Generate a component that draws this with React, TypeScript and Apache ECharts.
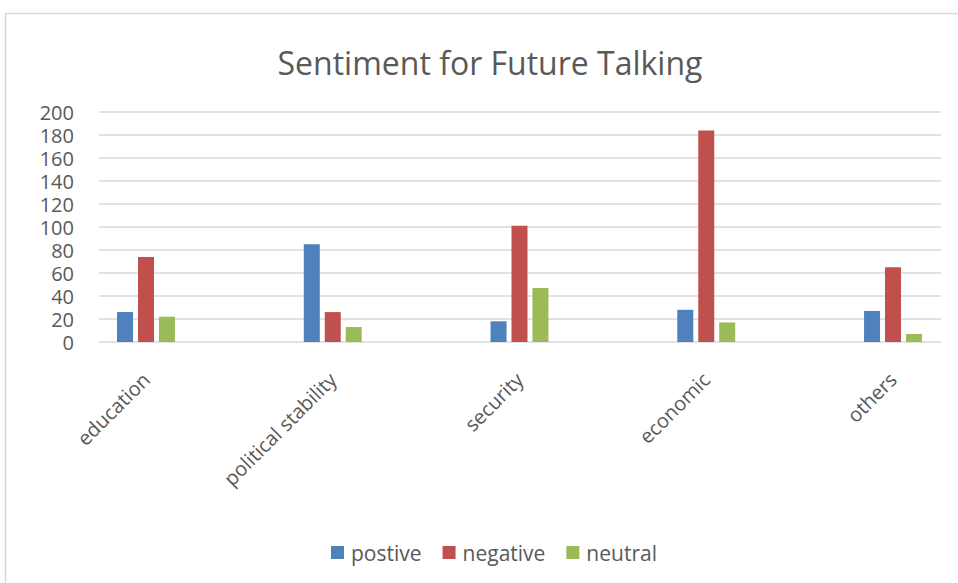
import React, { useEffect, useRef } from "react";
import * as echarts from "echarts";

const categories = ["education", "political stability", "security", "economic", "others"];
const seriesNames = ["postive", "negative", "neutral"];
const positive = [26, 85, 18, 28, 27];
const negative = [74, 26, 101, 184, 65];
const neutral = [22, 13, 47, 17, 7];
const yTicks = { min: 0, max: 200, interval: 20 };
const colors = ["#4F81BD", "#C0504D", "#9BBB59"];
const titleText = "Sentiment for Future Talking";

export default function App() {
  const ref = useRef<HTMLDivElement>(null);
  useEffect(() => {
    if (!ref.current) return;
    const chart = echarts.init(ref.current, null, { renderer: "svg" });
    const font = "'Open Sans', 'Noto Sans', sans-serif";
    const textColor = "#595959";
    const values = [positive, negative, neutral];
    chart.setOption({
      animation: false,
      backgroundColor: "#ffffff",
      textStyle: { fontFamily: font },
      graphic: [
        {
          type: "rect",
          shape: { x: 5.5, y: 13.5, width: 1100, height: 1100 },
          style: { fill: "none", stroke: "#d9d9d9", lineWidth: 1.5 },
          silent: true,
        },
        {
          type: "text",
          x: 490,
          y: 62,
          style: {
            text: titleText,
            fontFamily: font,
            fontSize: 32,
            fill: textColor,
            textAlign: "center",
            textVerticalAlign: "middle",
          },
        },
      ],
      legend: {
        data: seriesNames,
        left: 331,
        top: 542,
        padding: 0,
        itemWidth: 13,
        itemHeight: 13,
        itemGap: 21,
        icon: "rect",
        textStyle: { fontSize: 21, color: textColor, fontFamily: font, padding: [0, 0, 0, 2] },
      },
      grid: [
        { left: 99, top: 112, width: 842, height: 230 },
        { left: 146, top: 112, width: 747, height: 230 },
      ],
      xAxis: [
        { type: "value", gridIndex: 0, show: false, min: 0, max: 1 },
        {
          type: "category",
          gridIndex: 1,
          data: categories,
          boundaryGap: false,
          axisLine: { show: false },
          axisTick: { show: false },
          splitLine: { show: false },
          axisLabel: {
            rotate: 45,
            fontSize: 20,
            color: textColor,
            fontFamily: font,
            margin: 34,
            interval: 0,
          },
        },
      ],
      yAxis: [
        {
          type: "value",
          gridIndex: 0,
          min: yTicks.min,
          max: yTicks.max,
          interval: yTicks.interval,
          axisLine: { show: false },
          axisTick: { show: false },
          axisLabel: { fontSize: 20, lineHeight: 20, color: textColor, fontFamily: font, margin: 25 },
          splitLine: { lineStyle: { color: "#d9d9d9", width: 1.5 } },
        },
        {
          type: "value",
          gridIndex: 1,
          min: yTicks.min,
          max: yTicks.max,
          interval: yTicks.interval,
          show: false,
          splitLine: { show: false },
        },
      ],
      series: seriesNames.map((name, i) => ({
        name,
        type: "bar",
        xAxisIndex: 1,
        yAxisIndex: 1,
        data: values[i],
        barWidth: 16,
        barGap: "31%",
        itemStyle: { color: colors[i] },
      })),
    });
    return () => chart.dispose();
  }, []);
  return (
    <div
      ref={ref}
      style={{ position: "absolute", left: 0, top: 0, width: 958, height: 583 }}
    />
  );
}
